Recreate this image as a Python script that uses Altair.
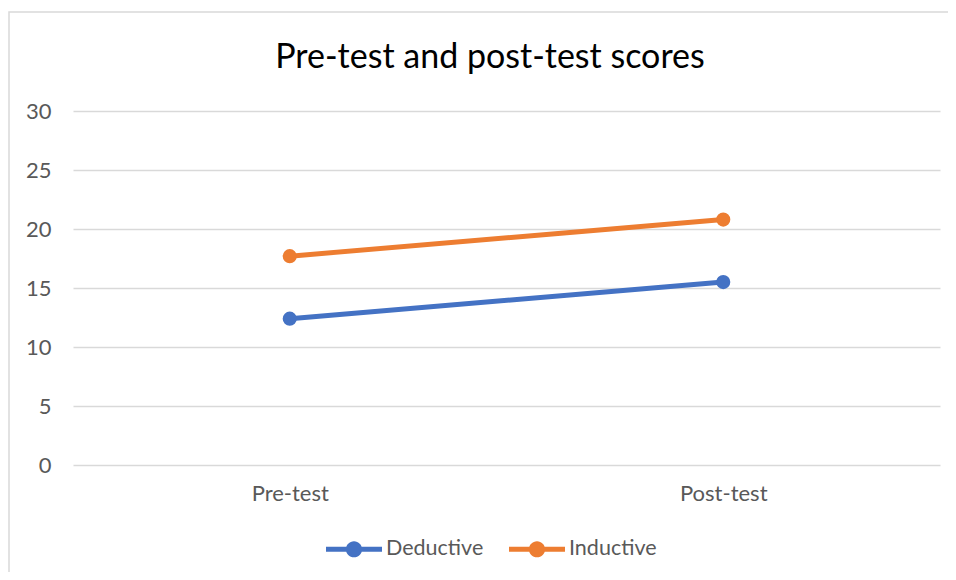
import altair as alt
import pandas as pd

title_text = "Pre-test and post-test scores"
categories = ["Pre-test", "Post-test"]
series = ["Deductive", "Inductive"]
deductive = [12.4, 15.5]
inductive = [17.7, 20.8]
colors = ["#4472C4", "#ED7D31"]

rows = []
for s, vals in zip(series, [deductive, inductive]):
    for c, v in zip(categories, vals):
        rows.append({"Test": c, "Series": s, "Score": v})
df = pd.DataFrame(rows)

FONT = "Lato"
GREY = "#595959"

x = alt.X("Test:N", sort=categories, title=None,
          scale=alt.Scale(padding=0.5),
          axis=alt.Axis(labelAngle=0, ticks=False, domain=False, grid=False,
                        labelFontSize=22, labelColor=GREY, labelFont=FONT,
                        labelPadding=18))
y = alt.Y("Score:Q", title=None,
          scale=alt.Scale(domain=[0, 30], nice=False),
          axis=alt.Axis(values=[0, 5, 10, 15, 20, 25, 30], ticks=False, domain=False,
                        gridColor="#d9d9d9", gridWidth=1.5,
                        labelFontSize=22, labelColor=GREY, labelFont=FONT,
                        labelPadding=22))

symbol_path = ("M-1,-0.09H1V0.09H-1Z "
               "M-0.29,0A0.29,0.29 0 1,1 0.29,0A0.29,0.29 0 1,1 -0.29,0Z")

color = alt.Color("Series:N", sort=series,
                  scale=alt.Scale(domain=series, range=colors),
                  legend=alt.Legend(title=None, orient="none", direction="horizontal",
                                    legendX=253, legendY=410,
                                    symbolType=symbol_path, symbolSize=3136,
                                    symbolStrokeWidth=0, symbolOpacity=1,
                                    labelFontSize=21.5, labelColor=GREY, labelFont=FONT,
                                    labelOffset=4, columnPadding=25))

lines = alt.Chart(df).mark_line(strokeWidth=5).encode(x=x, y=y, color=color)
points = alt.Chart(df).mark_point(filled=True, size=200, opacity=1).encode(
    x=x, y=y, color=color, fill=color)

frame = alt.Chart(alt.Data(values=[{}])).mark_rect(
    fill="transparent", stroke="#d9d9d9", strokeWidth=1.5).encode(
    x=alt.value(-64), x2=alt.value(920), y=alt.value(-99), y2=alt.value(520))

title = alt.Chart(alt.Data(values=[{"t": title_text}])).mark_text(
    font=FONT, fontSize=34, color="#000000", align="center", baseline="middle").encode(
    text="t:N", x=alt.value(417), y=alt.value(-53))

chart = alt.layer(frame, title, lines, points).properties(
    width=867, height=354,
    background="white",
    autosize=alt.AutoSizeParams(type="none"),
    padding={"left": 65, "top": 103, "right": 8, "bottom": 107},
).configure_view(strokeWidth=0)

chart.save("out.html", embed_options={"renderer": "svg", "actions": False})
